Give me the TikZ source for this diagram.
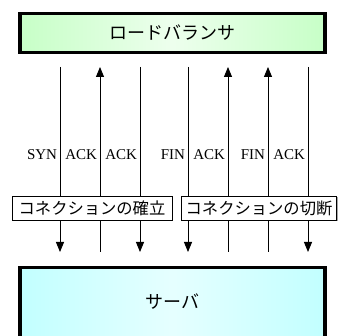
\documentclass[tikz,border=0pt]{standalone}
\usepackage{fontspec}
\setmainfont{Liberation Serif}
\newfontfamily\jp{Noto Sans CJK JP}
\usepackage{tikz}
\usetikzlibrary{arrows.meta}
\usetikzlibrary{shadows}
\usetikzlibrary{positioning}

\begin{document}
\begin{tikzpicture}[x=1pt,y=1pt,>={Triangle[width=8pt,length=10pt]},
	line width=0.9pt,
	big box/.style={draw,line width=3.2pt,minimum width=305pt,
		font=\jp\fontsize{18}{18}\selectfont},
	phase box/.style={draw,fill=white,line width=0.9pt,minimum height=24pt,
		inner xsep=3pt,font=\jp\fontsize{16.3}{16.3}\selectfont,
		drop shadow={shadow xshift=1.2pt,shadow yshift=-1.2pt,fill=gray!70,opacity=1}},
	msg/.style={anchor=base east,inner sep=0pt,font=\fontsize{15}{15}\selectfont}]
	
	\useasboundingbox (0,0) rectangle (338,-336);
	
	\node[big box,minimum height=38.5pt,shading=axis,left color=green!22,
		right color=green!22,middle color=green!7] (lb) at (172.5,-33) {ロードバランサ};
	\node[big box,minimum height=73pt,shading=axis,left color=cyan!24,
		right color=cyan!24,middle color=cyan!10] (sv) at (172.5,-304) {};
	\node[font=\jp\fontsize{18}{18}\selectfont] (svt) at (172.5,-302) {サーバ};
	
	% message lines
	\foreach \x/\m [count=\i] in {60/SYN,100/ACK,140/ACK,188/FIN,228/ACK,268/FIN,308/ACK} {
		\coordinate (t\i) at (\x,-67);
		\coordinate (b\i) at (\x,-252);
		\node[msg] (m\i) at (\x-2.5,-160) {\m};
	}
	\draw[->] (t1) -- (b1);
	\draw[<-] (t2) -- (b2);
	\draw[->] (t3) -- (b3);
	\draw[->] (t4) -- (b4);
	\draw[<-] (t5) -- (b5);
	\draw[<-] (t6) -- (b6);
	\draw[->] (t7) -- (b7);
	
	\node[phase box,minimum width=160pt] (est) at (92,-208) {コネクションの確立};
	\node[phase box,minimum width=155pt] (cut) at (259,-208) {コネクションの切断};
\end{tikzpicture}
\end{document}
